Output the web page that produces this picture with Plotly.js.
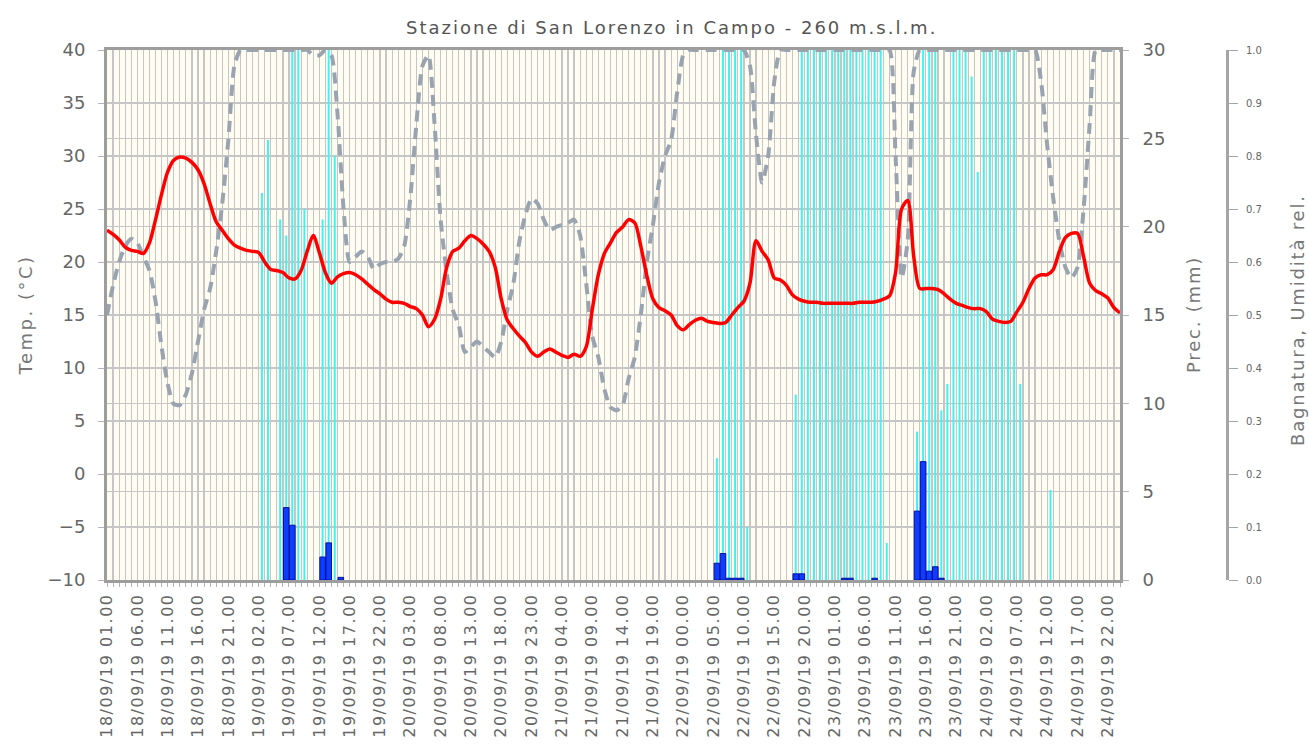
<!DOCTYPE html>
<html><head><meta charset="utf-8">
<script src="https://cdn.plot.ly/plotly-3.0.1.min.js"></script>
<style>
body{margin:0;background:#fff}
#chart{width:1309px;height:749px}
.xtick text{letter-spacing:1.55px}
g.annotation[data-index="0"] text{letter-spacing:2px}
g.annotation[data-index="1"] text{letter-spacing:2.5px}
g.annotation[data-index="2"] text{letter-spacing:1.8px}
g.annotation[data-index="3"] text{letter-spacing:1.8px}
</style>
</head><body><div id="chart"></div>
<script>
// hour index 0 = 18/09/19 01.00 ... 167 = 25/09/19 00.00
const hours = Array.from({length:168}, (_, i) => i);

const tickLabels = [
 "18/09/19 01.00","18/09/19 06.00","18/09/19 11.00","18/09/19 16.00","18/09/19 21.00",
 "19/09/19 02.00","19/09/19 07.00","19/09/19 12.00","19/09/19 17.00","19/09/19 22.00",
 "20/09/19 03.00","20/09/19 08.00","20/09/19 13.00","20/09/19 18.00","20/09/19 23.00",
 "21/09/19 04.00","21/09/19 09.00","21/09/19 14.00","21/09/19 19.00",
 "22/09/19 00.00","22/09/19 05.00","22/09/19 10.00","22/09/19 15.00","22/09/19 20.00",
 "23/09/19 01.00","23/09/19 06.00","23/09/19 11.00","23/09/19 16.00","23/09/19 21.00",
 "24/09/19 02.00","24/09/19 07.00","24/09/19 12.00","24/09/19 17.00","24/09/19 22.00"];
const tickHours = [0,5,10,15,20,25,30,35,40,45,50,55,60,65,70,75,80,85,90,95,100,105,110,115,120,125,130,135,140,145,150,155,160,165];

// Temperature (°C), hourly
const temperature = [
 23.0,22.6,22.1,21.4,21.1,21.0,20.8,21.8,24.0,26.4,
 28.5,29.6,29.9,29.8,29.4,28.7,27.4,25.5,23.8,23.0,
 22.2,21.6,21.3,21.1,21.0,20.9,20.0,19.3,19.2,19.0,
 18.5,18.4,19.2,21.0,22.5,20.9,19.0,18.0,18.6,18.9,
 19.0,18.8,18.4,17.9,17.4,17.0,16.5,16.2,16.2,16.1,
 15.8,15.6,15.0,13.9,14.6,16.5,19.5,21.0,21.3,22.0,
 22.5,22.2,21.7,21.0,19.5,16.5,14.5,13.7,13.0,12.4,
 11.5,11.1,11.5,11.8,11.5,11.2,11.0,11.3,11.1,12.0,
 15.5,18.8,20.8,21.8,22.8,23.3,24.0,23.7,21.5,18.7,
 16.5,15.7,15.4,15.0,14.0,13.6,14.1,14.5,14.7,14.4,
 14.3,14.2,14.3,15.0,15.7,16.3,18.0,22.0,21.0,20.2,
 18.5,18.3,17.8,16.9,16.5,16.3,16.2,16.2,16.1,16.1,
 16.1,16.1,16.1,16.1,16.2,16.2,16.2,16.3,16.5,16.8,
 19.0,25.0,25.8,20.5,17.5,17.5,17.5,17.4,17.0,16.5,
 16.1,15.9,15.7,15.6,15.6,15.3,14.6,14.4,14.3,14.4,
 15.3,16.2,17.5,18.5,18.8,18.8,19.3,21.0,22.3,22.7,
 22.7,20.5,18.0,17.3,17.0,16.6,15.7,15.2];

// Relative humidity (fraction 0-1), hourly
const humidity = [
 0.50,0.556,0.60,0.63,0.644,0.636,0.61,0.584,0.526,0.44,
 0.37,0.332,0.33,0.35,0.39,0.45,0.51,0.55,0.62,0.71,
 0.83,0.97,1.0,1.0,1.0,1.0,1.0,1.0,1.0,1.0,
 1.0,1.0,1.0,1.0,0.99,0.99,1.0,0.99,0.88,0.70,
 0.60,0.61,0.62,0.61,0.586,0.596,0.60,0.60,0.606,0.63,
 0.72,0.86,0.97,0.99,0.86,0.68,0.58,0.51,0.48,0.43,
 0.44,0.45,0.44,0.43,0.42,0.45,0.51,0.56,0.64,0.69,
 0.72,0.71,0.68,0.66,0.666,0.67,0.674,0.68,0.65,0.56,
 0.46,0.42,0.36,0.326,0.32,0.33,0.38,0.42,0.50,0.60,
 0.67,0.75,0.80,0.83,0.92,0.99,1.0,1.0,1.0,1.0,
 1.0,1.0,1.0,1.0,1.0,1.0,0.97,0.84,0.75,0.80,
 0.94,1.0,1.0,1.0,1.0,1.0,1.0,1.0,1.0,1.0,
 1.0,1.0,1.0,1.0,1.0,1.0,1.0,1.0,1.0,1.0,
 0.80,0.57,0.64,0.96,1.0,1.0,1.0,1.0,1.0,1.0,
 1.0,1.0,1.0,1.0,1.0,1.0,1.0,1.0,1.0,1.0,
 1.0,1.0,1.0,1.0,0.94,0.82,0.72,0.64,0.59,0.57,
 0.59,0.70,0.86,1.0,1.0,1.0,1.0,1.0];

// Leaf wetness (Bagnatura, fraction 0-1): hours with a value
const wetHours = [25,26,28,29,30,31,32,35,36,37,
 100,101,102,103,104,105,
 113,114,115,116,117,118,119,120,121,122,123,124,125,126,127,128,
 133,134,135,136,137,138,139,140,141,142,143,144,145,146,147,148,149,150,155];
const wetness = [0.73,0.83,0.68,0.65,1.0,1.0,0.70,0.68,1.0,0.80,
 0.23,1.0,1.0,1.0,1.0,0.10,
 0.35,1.0,1.0,1.0,1.0,1.0,1.0,1.0,1.0,1.0,1.0,1.0,1.0,1.0,1.0,0.07,
 0.28,1.0,1.0,1.0,0.32,0.37,1.0,1.0,1.0,0.95,0.77,1.0,1.0,1.0,1.0,1.0,1.0,0.37,0.17];

// Precipitation (mm): hours with rain
const rainHours = [29,30,35,36,38,100,101,102,103,104,113,114,121,122,126,133,134,135,136,137];
const rain = [4.1,3.1,1.3,2.1,0.15,0.95,1.5,0.1,0.1,0.1,0.35,0.35,0.1,0.1,0.1,3.9,6.7,0.5,0.75,0.1];

const GRID = '#c6c6c6', AX = '#9d9d9d', TXT = '#666', FONT = 'DejaVu Sans';

const traces = [
 {type:'bar', x:wetHours, y:wetness, yaxis:'y', width:0.33, offset:0.38,
  marker:{color:'#3ff3f3', line:{width:0}}, hoverinfo:'skip'},
 {type:'scatter', mode:'lines', x:hours, y:humidity, yaxis:'y',
  line:{color:'#9aa3b0', width:4, dash:'11px,7px', shape:'spline', smoothing:0.6}},
 {type:'bar', x:rainHours, y:rain, yaxis:'y2', width:0.92, offset:0.09,
  marker:{color:'#0d3dff', line:{color:'#0010a0', width:1}}},
 {type:'scatter', mode:'lines', x:hours, y:temperature, yaxis:'y3',
  line:{color:'#ff0000', width:3.5, shape:'spline', smoothing:0.8}}
];

const W = 1202; // paper width (margin l = 107, r = 0)
const layout = {
 width:1309, height:749, showlegend:false,
 margin:{l:107, r:0, t:50, b:169, pad:0},
 paper_bgcolor:'#ffffff', plot_bgcolor:'#fffdf1',
 font:{family:FONT, color:TXT},
 xaxis:{domain:[0, 1013/W], range:[0,167], tickmode:'array', tickvals:tickHours, ticktext:tickLabels,
   tickangle:-90, tickfont:{family:FONT, size:16, color:TXT},
   showgrid:true, gridcolor:GRID, gridwidth:1.2,
   minor:{dtick:1, tick0:0, showgrid:true, gridcolor:GRID, gridwidth:1.2, ticks:'outside', ticklen:4, tickcolor:'#b5b5b5'},
   ticks:'outside', ticklen:4, tickcolor:'#b5b5b5',
   showline:true, linecolor:AX, linewidth:3, mirror:true, zeroline:false, fixedrange:true},
 yaxis:{anchor:'free', position:(1227-107)/W, side:'right', range:[0,1], dtick:0.1, tickformat:'.1f',
   showgrid:false, zeroline:false, showline:true, linecolor:'#a5a5a5', linewidth:3,
   ticks:'outside', ticklen:9, tickcolor:'#a5a5a5', tickfont:{family:FONT, size:10, color:TXT}, ticklabelstandoff:6},
 yaxis2:{overlaying:'y', anchor:'x', side:'right', range:[0,30], dtick:5,
   showgrid:true, gridcolor:GRID, gridwidth:1.6, zeroline:false, showline:true, linecolor:AX, linewidth:3,
   ticks:'outside', ticklen:6, tickcolor:'#b5b5b5', tickfont:{family:FONT, size:18, color:TXT}, ticklabelstandoff:10},
 yaxis3:{overlaying:'y', anchor:'x', side:'left', range:[-10,40], dtick:5,
   showgrid:true, gridcolor:GRID, gridwidth:1.6, zeroline:false, showline:true, linecolor:AX, linewidth:3,
   ticks:'outside', ticklen:6, tickcolor:'#b5b5b5', tickfont:{family:FONT, size:18, color:TXT}, ticklabelstandoff:9},
 annotations:[
  {text:'Stazione di San Lorenzo in Campo - 260 m.s.l.m.', xref:'paper', yref:'paper',
   x:(671-107)/W, y:1, yshift:23, xanchor:'center', yanchor:'middle', showarrow:false,
   font:{family:FONT, size:18, color:'#555'}},
  {text:'Temp. (°C)', xref:'paper', yref:'paper', x:(25-107)/W, y:0.5, xanchor:'center', yanchor:'middle',
   textangle:-90, showarrow:false, font:{family:FONT, size:18, color:'#777'}},
  {text:'Prec. (mm)', xref:'paper', yref:'paper', x:(1193-107)/W, y:0.5, xanchor:'center', yanchor:'middle',
   textangle:-90, showarrow:false, font:{family:FONT, size:18, color:'#777'}},
  {text:'Bagnatura, Umidità rel.', xref:'paper', yref:'paper', x:(1297-107)/W, y:0.49, xanchor:'center', yanchor:'middle',
   textangle:-90, showarrow:false, font:{family:FONT, size:18, color:'#777'}}
 ]
};

Plotly.newPlot('chart', traces, layout, {staticPlot:true});
</script></body></html>
